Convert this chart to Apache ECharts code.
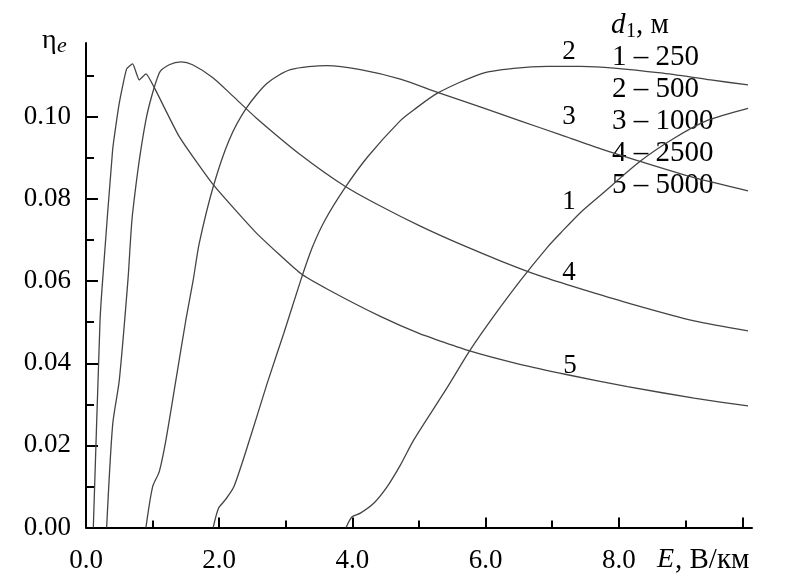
<!DOCTYPE html>
<html>
<head>
<meta charset="utf-8">
<script src="https://cdn.jsdelivr.net/npm/echarts@6/dist/echarts.min.js"></script>
<style>
html,body{margin:0;padding:0;background:#fff;}
#chart{width:800px;height:585px;}
</style>
</head>
<body>
<div id="chart"></div>
<script>
// ---- data (E in V/km, eta_e) ----
const curve1E   = [3.905, 3.995, 4.12, 4.32, 4.52, 4.72, 4.92, 5.42, 5.76, 6.12, 6.53, 6.93, 7.13, 7.43, 7.73, 8.33, 8.83, 9.34, 9.94];
const curve1Eta = [0, 0.0026, 0.0035, 0.0059, 0.0099, 0.0152, 0.0213, 0.0340, 0.0430, 0.0514, 0.0603, 0.0683, 0.0718, 0.0768, 0.0810, 0.0893, 0.0948, 0.0992, 0.1021];

const curve2E   = [1.91, 1.99, 2.09, 2.22, 2.47, 2.72, 2.97, 3.22, 3.40, 3.59, 3.90, 4.23, 4.72, 4.92, 5.29, 5.93, 6.42, 6.93, 7.43, 7.93, 8.63, 9.38, 9.94];
const curve2Eta = [0, 0.0047, 0.0067, 0.0099, 0.0221, 0.0351, 0.0473, 0.0600, 0.0683, 0.0749, 0.0830, 0.0903, 0.0991, 0.1017, 0.1059, 0.1105, 0.1118, 0.1123, 0.1123, 0.1119, 0.1107, 0.1090, 0.1078];

const curve3E   = [0.90, 1.00, 1.10, 1.20, 1.35, 1.50, 1.61, 1.70, 1.91, 2.15, 2.41, 2.72, 3.07, 3.62, 4.12, 4.72, 5.29, 5.93, 6.53, 7.13, 7.73, 8.33, 9.13, 9.94];
const curve3Eta = [0, 0.0099, 0.0136, 0.0213, 0.0359, 0.0506, 0.0603, 0.0692, 0.0830, 0.0944, 0.1022, 0.1082, 0.1115, 0.1125, 0.1115, 0.1092, 0.1059, 0.1024, 0.0990, 0.0956, 0.0922, 0.0891, 0.0852, 0.0820];

const curve4E   = [0.31, 0.40, 0.50, 0.63, 0.70, 0.90, 1.10, 1.25, 1.43, 1.60, 1.91, 2.21, 2.56, 3.22, 3.90, 4.42, 5.02, 5.62, 6.23, 6.83, 7.43, 8.13, 9.13, 9.94];
const curve4Eta = [0, 0.0250, 0.0359, 0.0603, 0.0766, 0.0993, 0.1107, 0.1127, 0.1134, 0.1127, 0.1095, 0.1050, 0.0997, 0.0908, 0.0830, 0.0783, 0.0734, 0.0690, 0.0649, 0.0612, 0.0581, 0.0547, 0.0503, 0.0479];

const curve5E   = [0.11, 0.21, 0.25, 0.40, 0.50, 0.61, 0.70, 0.80, 0.90, 1.03, 1.40, 1.91, 2.56, 3.22, 3.64, 4.42, 5.00, 5.76, 6.50, 7.23, 8.13, 9.13, 9.94];
const curve5Eta = [0, 0.0501, 0.0603, 0.0920, 0.1034, 0.1117, 0.1129, 0.1090, 0.1105, 0.1070, 0.0952, 0.0835, 0.0717, 0.0619, 0.0579, 0.0514, 0.0473, 0.0430, 0.0398, 0.0372, 0.0343, 0.0315, 0.0296];

const xMajorTicks = [0, 2, 4, 6, 8];
const xMinorTicks = [1, 3, 5, 7, 9];
const yMajorTicks = [0, 0.02, 0.04, 0.06, 0.08, 0.10];
const yMinorTicks = [0.01, 0.03, 0.05, 0.07, 0.09, 0.11];

const curveLabels  = ['1', '2', '3', '4', '5'];
const legendHeader = ['d', '1', ', м'];
const legendLines  = ['1 – 250', '2 – 500', '3 – 1000', '4 – 2500', '5 – 5000'];
const xTitle = ['E', ', В/км'];
const yTitle = ['η', 'e'];

// ---- chart ----
const FONT = '"Liberation Serif", "Times New Roman", serif';
const zip = (a, b) => a.map((v, i) => [v, b[i]]);
const curves = [
  [curve1E, curve1Eta, 0.25],
  [curve2E, curve2Eta, 0.25],
  [curve3E, curve3Eta, 0.25],
  [curve4E, curve4Eta, 0.25],
  [curve5E, curve5Eta, 0.15]
];

const lineColor = '#444';
const axisCommon = {
  splitLine: { show: false },
  axisLine: { show: true, lineStyle: { color: '#000', width: 2 } }
};

const chart = echarts.init(document.getElementById('chart'), null, { renderer: 'canvas' });

const curveLabelPos = [[569, 202], [569, 52], [569, 117], [569, 273], [570, 366]];
const legendY = [57, 89, 121, 153, 185];

const graphics = [];
curveLabels.forEach((t, i) => graphics.push({
  type: 'text', x: curveLabelPos[i][0], y: curveLabelPos[i][1],
  style: { text: t, font: '27px ' + FONT, fill: '#000', textAlign: 'center', textVerticalAlign: 'middle' }
}));
legendLines.forEach((t, i) => graphics.push({
  type: 'text', x: 612, y: legendY[i],
  style: { text: t, font: '29px ' + FONT, fill: '#000', textAlign: 'left', textVerticalAlign: 'middle' }
}));
// legend header d_1, м
graphics.push({ type: 'text', x: 611, y: 25, style: { text: legendHeader[0], font: 'italic 29px ' + FONT, fill: '#000', textAlign: 'left', textVerticalAlign: 'middle' } });
graphics.push({ type: 'text', x: 626, y: 32, style: { text: legendHeader[1], font: '20px ' + FONT, fill: '#000', textAlign: 'left', textVerticalAlign: 'middle' } });
graphics.push({ type: 'text', x: 636, y: 25, style: { text: legendHeader[2], font: '29px ' + FONT, fill: '#000', textAlign: 'left', textVerticalAlign: 'middle' } });
// x title
graphics.push({ type: 'text', x: 657, y: 560, style: { text: xTitle[0], font: 'italic 28px ' + FONT, fill: '#000', textAlign: 'left', textVerticalAlign: 'middle' } });
graphics.push({ type: 'text', x: 675, y: 560, style: { text: xTitle[1], font: '29px ' + FONT, fill: '#000', textAlign: 'left', textVerticalAlign: 'middle' } });
// y title
graphics.push({ type: 'text', x: 42, y: 41, style: { text: yTitle[0], font: '28px ' + FONT, fill: '#000', textAlign: 'left', textVerticalAlign: 'middle' } });
graphics.push({ type: 'text', x: 57, y: 46, style: { text: yTitle[1], font: 'italic 22px ' + FONT, fill: '#000', textAlign: 'left', textVerticalAlign: 'middle' } });

chart.setOption({
  animation: false,
  backgroundColor: '#fff',
  grid: { left: 86, right: 48, top: 43, bottom: 57.5 },
  xAxis: [
    Object.assign({}, axisCommon, {
      type: 'value', min: 0, max: 10, position: 'bottom',
      axisTick: { show: true, inside: true, length: 10, customValues: xMajorTicks.concat([9.86]), lineStyle: { color: '#000', width: 2 } },
      axisLabel: { show: true, customValues: xMajorTicks, formatter: v => v.toFixed(1), color: '#000', fontFamily: FONT, fontSize: 27, margin: 20 }
    }),
    {
      type: 'value', min: 0, max: 10, position: 'bottom',
      splitLine: { show: false }, axisLine: { show: false },
      axisTick: { show: true, inside: true, length: 7, customValues: xMinorTicks, lineStyle: { color: '#000', width: 2 } },
      axisLabel: { show: false }
    }
  ],
  yAxis: [
    Object.assign({}, axisCommon, {
      type: 'value', min: 0, max: 0.118, position: 'left',
      axisTick: { show: true, inside: true, length: 12, customValues: yMajorTicks, lineStyle: { color: '#000', width: 2 } },
      axisLabel: { show: true, customValues: yMajorTicks, formatter: v => v.toFixed(2), color: '#000', fontFamily: FONT, fontSize: 27, margin: 15 }
    }),
    {
      type: 'value', min: 0, max: 0.118, position: 'left',
      splitLine: { show: false }, axisLine: { show: false },
      axisTick: { show: true, inside: true, length: 8, customValues: yMinorTicks, lineStyle: { color: '#000', width: 2 } },
      axisLabel: { show: false }
    }
  ],
  series: curves.map((c, i) => ({
    name: curveLabels[i],
    type: 'line',
    xAxisIndex: 0, yAxisIndex: 0,
    data: zip(c[0], c[1]),
    showSymbol: false,
    smooth: c[2],
    lineStyle: { color: lineColor, width: 1.3 },
    silent: true
  })),
  graphic: graphics
});
</script>
</body>
</html>
